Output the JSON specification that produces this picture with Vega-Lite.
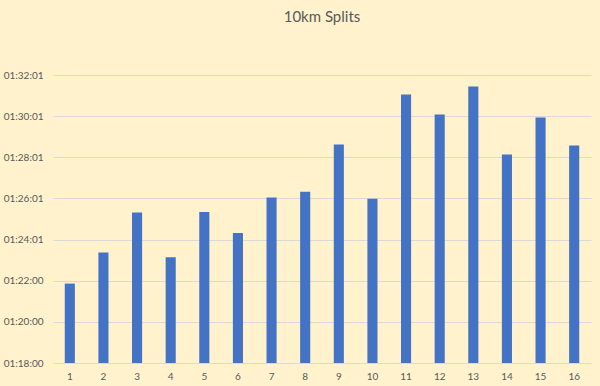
{
  "$schema": "https://vega.github.io/schema/vega-lite/v6.json",
  "width": 538,
  "height": 288,
  "autosize": {"type": "none"},
  "padding": {"left": 53, "top": 75, "right": 9, "bottom": 23},
  "background": "#FFF2CC",
  "title": {"text": "10km Splits", "anchor": "middle", "frame": "group", "offset": 45, "fontSize": 15, "font": "Lato", "fontWeight": "normal", "color": "#595959"},
  "config": {
    "view": {"stroke": null},
    "axis": {"labelFont": "Lato", "labelFontSize": 10, "labelColor": "#595959", "ticks": false, "title": null}
  },
  "data": {"values": [
    {"split": 1, "minutes": 81.86},
    {"split": 2, "minutes": 83.37},
    {"split": 3, "minutes": 85.31},
    {"split": 4, "minutes": 83.14},
    {"split": 5, "minutes": 85.34},
    {"split": 6, "minutes": 84.32},
    {"split": 7, "minutes": 86.04},
    {"split": 8, "minutes": 86.33},
    {"split": 9, "minutes": 88.62},
    {"split": 10, "minutes": 85.99},
    {"split": 11, "minutes": 91.05},
    {"split": 12, "minutes": 90.08},
    {"split": 13, "minutes": 91.44},
    {"split": 14, "minutes": 88.13},
    {"split": 15, "minutes": 89.93},
    {"split": 16, "minutes": 88.57}
  ]},
  "mark": {"type": "bar", "color": "#4472C4"},
  "encoding": {
    "x": {"field": "split", "type": "ordinal", "scale": {"paddingInner": 0.7, "paddingOuter": 0.35},
      "axis": {"labelAngle": 0, "grid": false, "domain": false, "labelPadding": 8}},
    "y": {"field": "minutes", "type": "quantitative", "scale": {"domain": [78, 92], "nice": false, "zero": false},
      "axis": {"values": [78, 80, 82, 84, 86, 88, 90, 92], "domain": false, "gridColor": "#D9D9D9", "labelPadding": 10,
        "labelExpr": "'01:' + (datum.value - 60) + (datum.value <= 82 ? ':00' : ':01')"}},
    "y2": {"datum": 78}
  }
}
